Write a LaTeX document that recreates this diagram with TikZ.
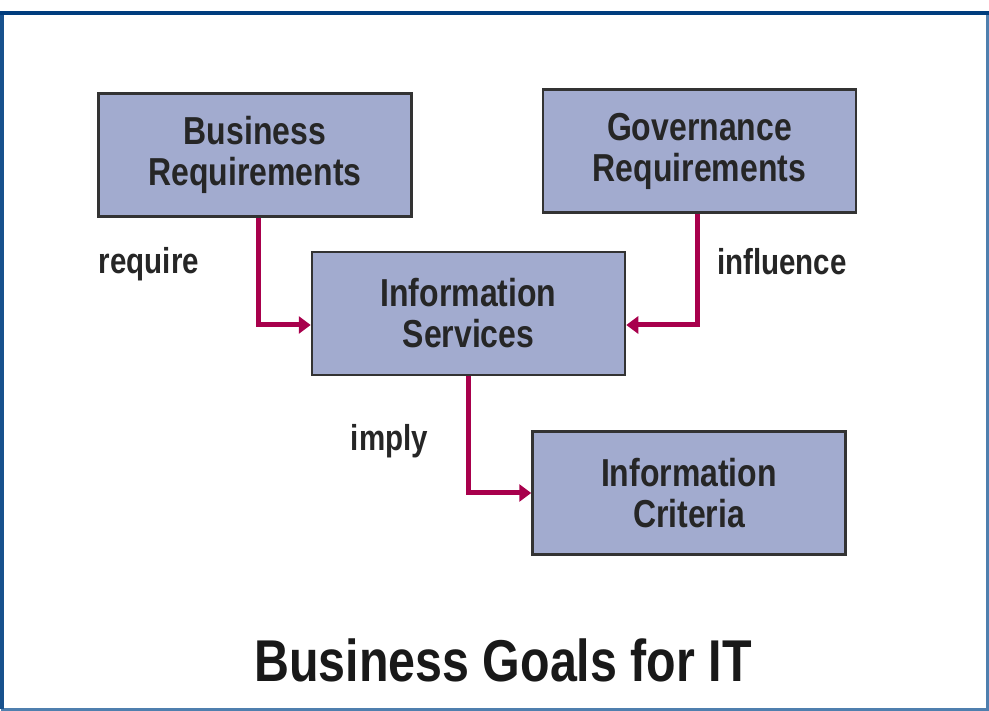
\documentclass[tikz,border=0pt]{standalone}
\usepackage{fontspec}
\setmainfont{Liberation Sans}[FakeStretch=0.82]
\usetikzlibrary{arrows.meta}
\definecolor{boxfill}{HTML}{A2ABCF}
\definecolor{linkred}{HTML}{A8004C}
\definecolor{framedark}{HTML}{003D7E}
\definecolor{framelight}{HTML}{4F7FAE}

\begin{document}
\begin{tikzpicture}[x=1pt,y=-1pt,
  goal/.style={draw=black!80,line width=2.5pt,fill=boxfill,minimum width=313pt,
    minimum height=123pt,align=center,text=black!85,
    font=\bfseries\fontsize{39}{41}\selectfont},
  link/.style={linkred,line width=5pt,-{Triangle[length=12pt,width=17pt]}},
  verb/.style={text=black!85,font=\bfseries\fontsize{36}{40}\selectfont}]

\useasboundingbox (0,0) rectangle (989,711);

% frame
\draw[framelight,line width=3pt] (2,13) -- (2,709.5) -- (987.5,709.5) -- (987.5,13);
\draw[framedark!70!framelight,line width=4pt] (2,13) -- (2,709);
\draw[framedark,line width=4pt] (0,13) -- (989,13);

\node[goal] (busreq) at (255,155) {Business\\Requirements};
\node[goal] (govreq) at (699.5,151) {Governance\\Requirements};
\node[goal] (infserv) at (468.5,313.5) {Information\\Services};
\node[goal] (infcrit) at (689,493) {Information\\Criteria};

\draw[link] ([xshift=3pt]busreq.south) |- ([yshift=-11.5pt]infserv.west);
\draw[link] ([xshift=-2.5pt]govreq.south) |- ([yshift=-11.5pt]infserv.east);
\draw[link] (infserv.south) |- (infcrit.west);

\node[verb] (require) at (149,264) {require};
\node[verb] (influence) at (782,262) {influence};
\node[verb] (imply) at (389.5,441) {imply};

\node[text=black!90,font=\bfseries\fontsize{59}{64}\selectfont] (title) at (503,660) {Business Goals for IT};
\end{tikzpicture}
\end{document}
